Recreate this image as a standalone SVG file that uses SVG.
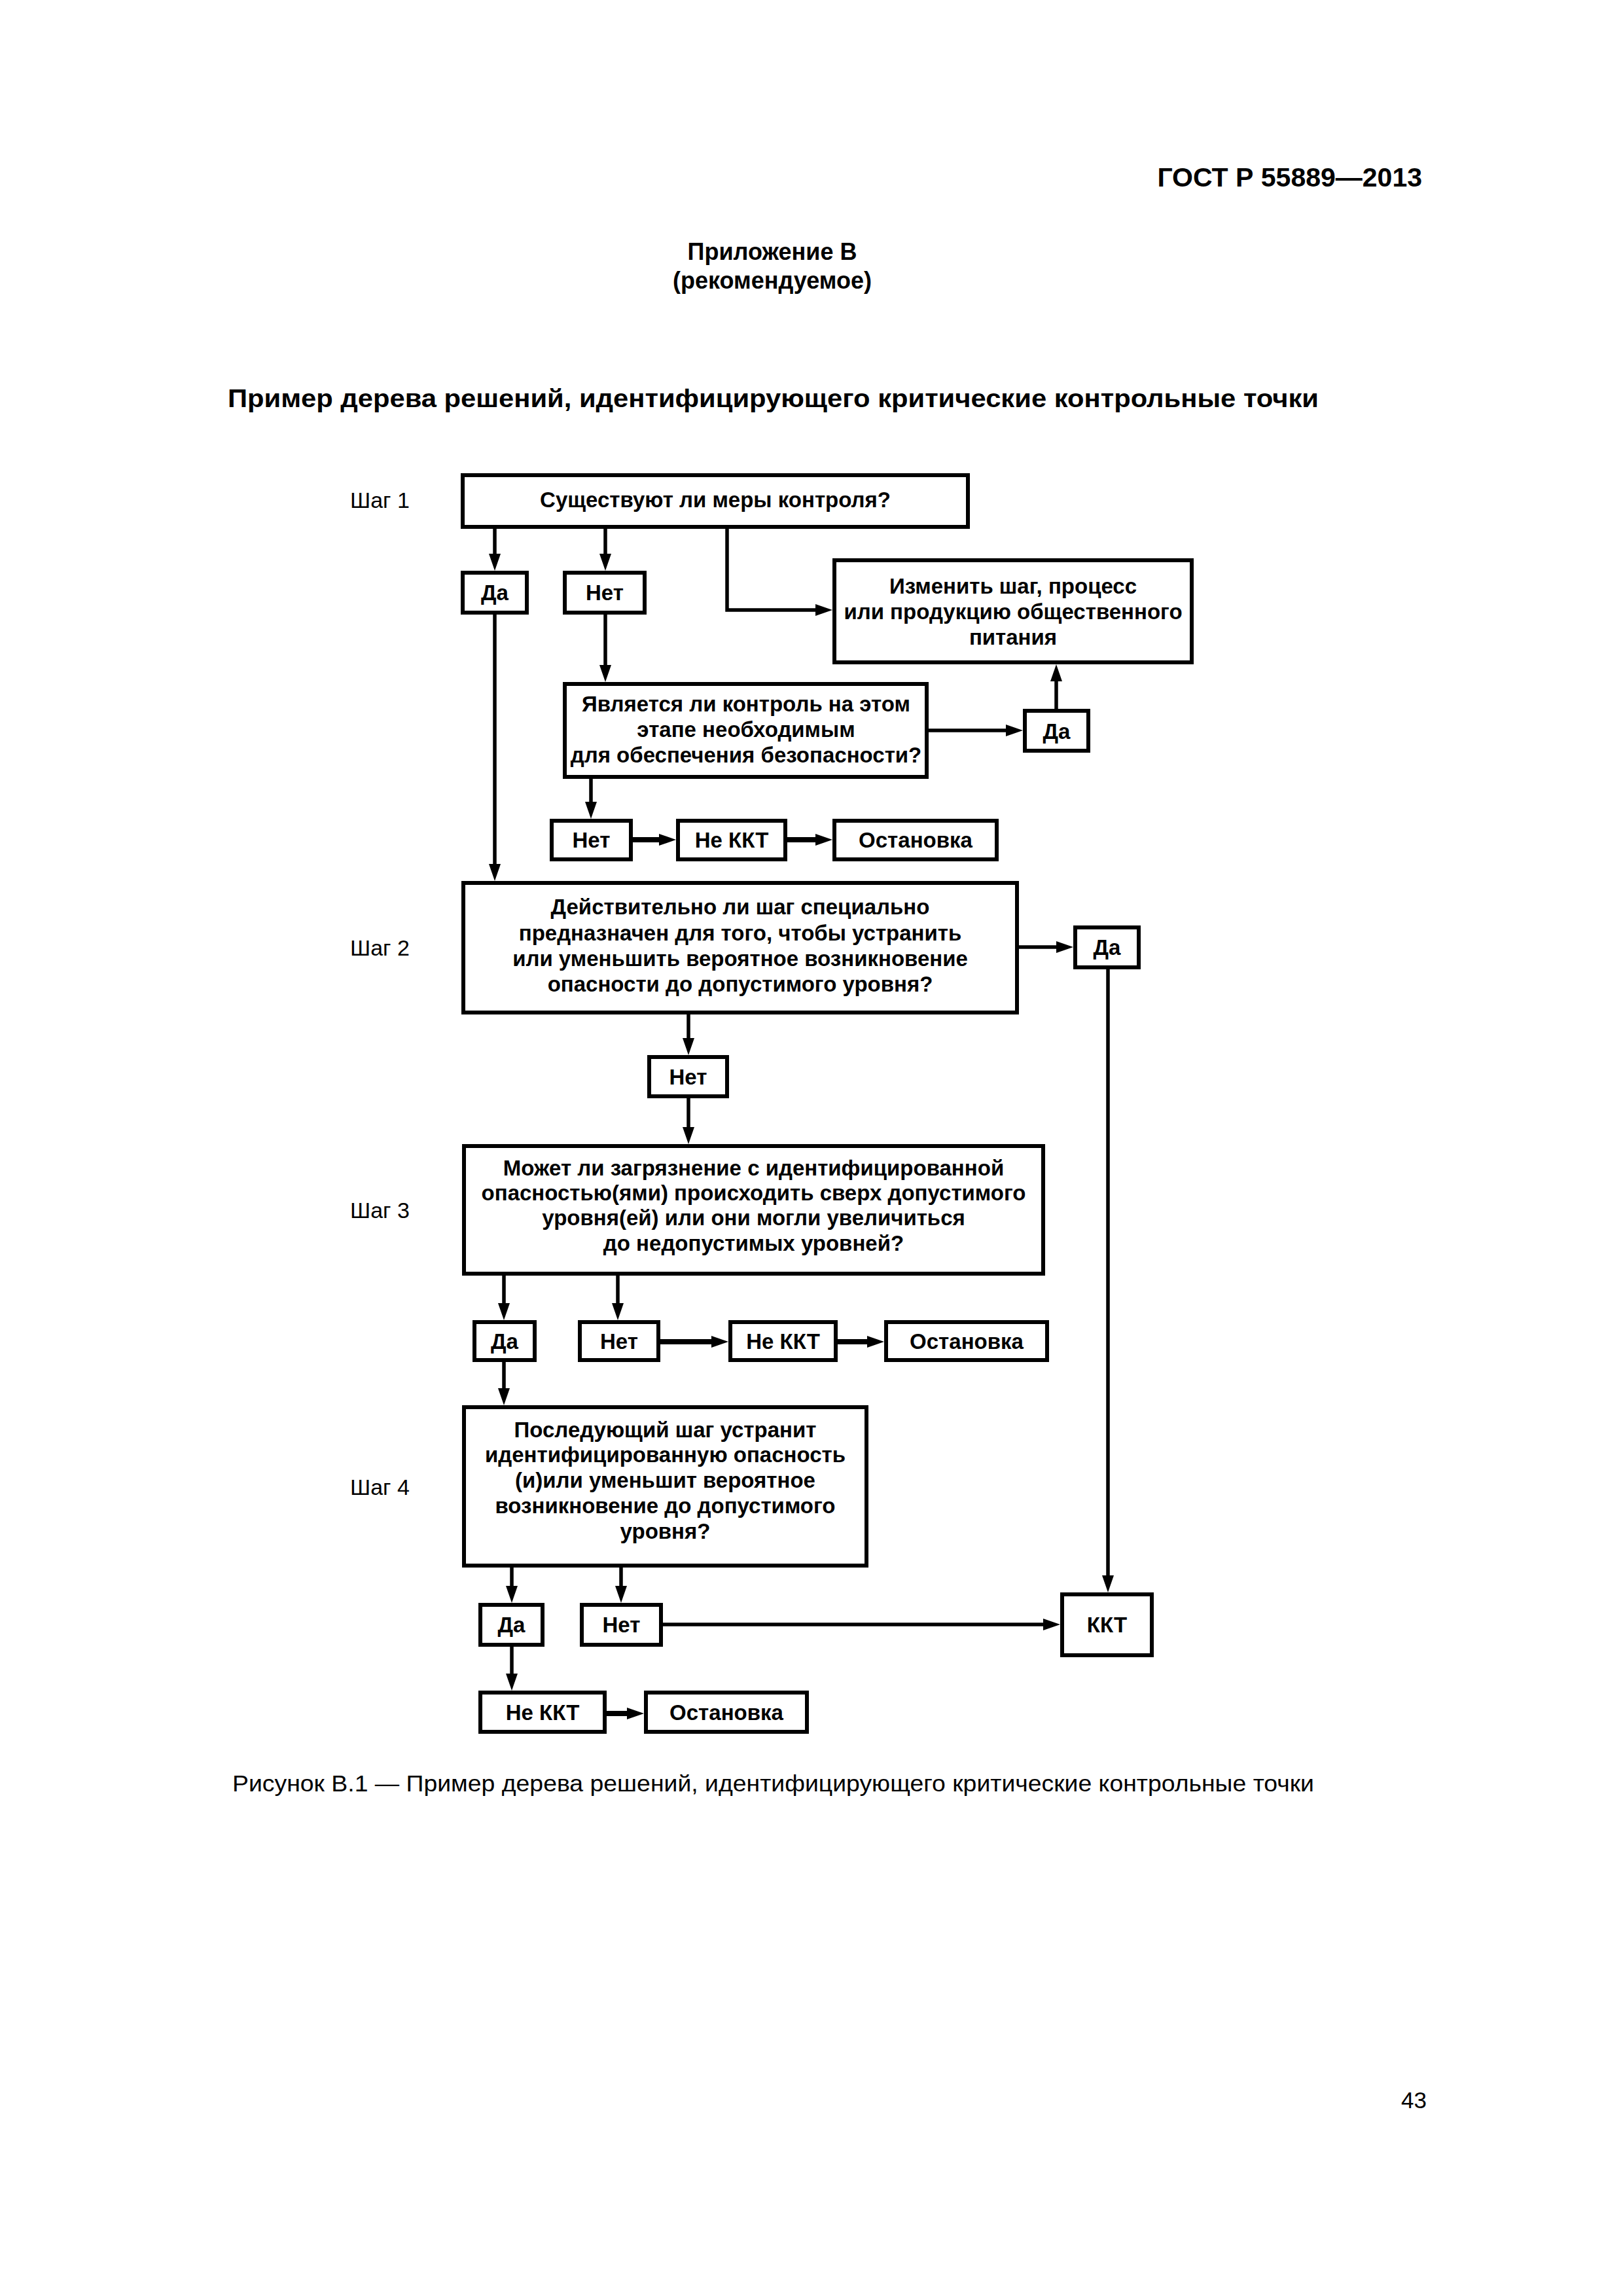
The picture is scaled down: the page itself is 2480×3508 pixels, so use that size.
<svg xmlns="http://www.w3.org/2000/svg" width="2480" height="3508" viewBox="0 0 2480 3508">
<style>
.bg{fill:#fff}
.box{fill:#fff;stroke:#000;stroke-width:6}
.t{font-family:"Liberation Sans",Arial,sans-serif;font-size:33px;font-weight:bold;text-anchor:middle;fill:#000}
.lbl{font-family:"Liberation Sans",Arial,sans-serif;font-size:34px;fill:#000}
.hd{font-family:"Liberation Sans",Arial,sans-serif;font-weight:bold;fill:#000}
.cap{font-family:"Liberation Sans",Arial,sans-serif;font-size:35px;fill:#000}
.ln{fill:none;stroke:#000;stroke-width:5.5;marker-end:url(#ah)}
.thk{stroke-width:8}
</style>
<defs>
<marker id="ah" viewBox="0 0 26 18" markerWidth="26" markerHeight="18" refX="14" refY="9" markerUnits="userSpaceOnUse" orient="auto">
<path d="M0,0 L26,9 L0,18 z" fill="#000"/>
</marker>
</defs>
<rect class="bg" x="0" y="0" width="2480" height="3508"/>

<text class="hd" x="2173" y="285" font-size="41" text-anchor="end">ГОСТ Р 55889—2013</text>
<text class="hd" x="1180" y="397" font-size="36" text-anchor="middle">Приложение В</text>
<text class="hd" x="1180" y="441" font-size="36" text-anchor="middle">(рекомендуемое)</text>
<text class="hd" x="348" y="622" font-size="39" textLength="1667" lengthAdjust="spacingAndGlyphs">Пример дерева решений, идентифицирующего критические контрольные точки</text>

<text class="lbl" x="535" y="776">Шаг 1</text>
<text class="lbl" x="535" y="1460">Шаг 2</text>
<text class="lbl" x="535" y="1861">Шаг 3</text>
<text class="lbl" x="535" y="2284">Шаг 4</text>

<g id="connectors">
<path class="ln" d="M756,808 V860"/>
<path class="ln" d="M925,808 V860"/>
<path class="ln" d="M1111,808 V932 H1260"/>
<path class="ln" d="M756,939 V1334"/>
<path class="ln" d="M925,939 V1030"/>
<path class="ln" d="M1419,1116 H1551"/>
<path class="ln" d="M1614,1083 V1027"/>
<path class="ln" d="M903,1190 V1239"/>
<path class="ln thk" d="M967,1283 H1021"/>
<path class="ln thk" d="M1203,1283 H1260"/>
<path class="ln" d="M1557,1447 H1628"/>
<path class="ln" d="M1693,1481 V2421"/>
<path class="ln" d="M1052,1550 V1600"/>
<path class="ln" d="M1052,1678 V1736"/>
<path class="ln" d="M770,1949 V2005"/>
<path class="ln" d="M944,1949 V2005"/>
<path class="ln thk" d="M1009,2050 H1101"/>
<path class="ln thk" d="M1280,2050 H1339"/>
<path class="ln" d="M770,2081 V2135"/>
<path class="ln" d="M782,2395 V2437"/>
<path class="ln" d="M949,2395 V2437"/>
<path class="ln" d="M1013,2482 H1608"/>
<path class="ln" d="M782,2516 V2571"/>
<path class="ln thk" d="M927,2618 H972"/>
</g>

<g id="step1">
<rect class="box" x="707" y="726" width="772" height="79"/>
<text class="t" x="1093" y="775">Существуют ли меры контроля?</text>
</g>
<g id="da1">
<rect class="box" x="707" y="875" width="98" height="61"/>
<text class="t" x="756" y="917">Да</text>
</g>
<g id="net1">
<rect class="box" x="863" y="875" width="122" height="61"/>
<text class="t" x="924" y="917">Нет</text>
</g>
<g id="change">
<rect class="box" x="1275" y="856" width="546" height="156"/>
<text class="t" x="1548" y="907">Изменить шаг, процесс</text>
<text class="t" x="1548" y="946">или продукцию общественного</text>
<text class="t" x="1548" y="985">питания</text>
</g>
<g id="necessary">
<rect class="box" x="863" y="1045" width="553" height="142"/>
<text class="t" x="1140" y="1087">Является ли контроль на этом</text>
<text class="t" x="1140" y="1126">этапе необходимым</text>
<text class="t" x="1140" y="1165">для обеспечения безопасности?</text>
</g>
<g id="da2">
<rect class="box" x="1566" y="1086" width="97" height="61"/>
<text class="t" x="1614.5" y="1129">Да</text>
</g>
<g id="net2">
<rect class="box" x="843" y="1254" width="121" height="59"/>
<text class="t" x="903.5" y="1295">Нет</text>
</g>
<g id="nekkt1">
<rect class="box" x="1036" y="1254" width="164" height="59"/>
<text class="t" x="1118" y="1295">Не ККТ</text>
</g>
<g id="stop1">
<rect class="box" x="1275" y="1254" width="248" height="59"/>
<text class="t" x="1399" y="1295">Остановка</text>
</g>
<g id="step2">
<rect class="box" x="708" y="1349" width="846" height="198"/>
<text class="t" x="1131" y="1397">Действительно ли шаг специально</text>
<text class="t" x="1131" y="1437">предназначен для того, чтобы устранить</text>
<text class="t" x="1131" y="1476">или уменьшить вероятное возникновение</text>
<text class="t" x="1131" y="1515">опасности до допустимого уровня?</text>
</g>
<g id="da3">
<rect class="box" x="1643" y="1417" width="97" height="61"/>
<text class="t" x="1691.5" y="1459">Да</text>
</g>
<g id="net3">
<rect class="box" x="992" y="1615" width="119" height="60"/>
<text class="t" x="1051.5" y="1657">Нет</text>
</g>
<g id="step3">
<rect class="box" x="709" y="1751" width="885" height="195"/>
<text class="t" x="1151.5" y="1796">Может ли загрязнение с идентифицированной</text>
<text class="t" x="1151.5" y="1834">опасностью(ями) происходить сверх допустимого</text>
<text class="t" x="1151.5" y="1872">уровня(ей) или они могли увеличиться</text>
<text class="t" x="1151.5" y="1911">до недопустимых уровней?</text>
</g>
<g id="da4">
<rect class="box" x="725" y="2020" width="92" height="58"/>
<text class="t" x="771" y="2061">Да</text>
</g>
<g id="net4">
<rect class="box" x="886" y="2020" width="120" height="58"/>
<text class="t" x="946" y="2061">Нет</text>
</g>
<g id="nekkt2">
<rect class="box" x="1116" y="2020" width="161" height="58"/>
<text class="t" x="1196.5" y="2061">Не ККТ</text>
</g>
<g id="stop2">
<rect class="box" x="1354" y="2020" width="246" height="58"/>
<text class="t" x="1477" y="2061">Остановка</text>
</g>
<g id="step4">
<rect class="box" x="709" y="2150" width="615" height="242"/>
<text class="t" x="1016.5" y="2196">Последующий шаг устранит</text>
<text class="t" x="1016.5" y="2234">идентифицированную опасность</text>
<text class="t" x="1016.5" y="2273">(и)или уменьшит вероятное</text>
<text class="t" x="1016.5" y="2312">возникновение до допустимого</text>
<text class="t" x="1016.5" y="2351">уровня?</text>
</g>
<g id="da5">
<rect class="box" x="734" y="2452" width="95" height="61"/>
<text class="t" x="781.5" y="2494">Да</text>
</g>
<g id="net5">
<rect class="box" x="889" y="2452" width="121" height="61"/>
<text class="t" x="949.5" y="2494">Нет</text>
</g>
<g id="kkt">
<rect class="box" x="1623" y="2436" width="137" height="93"/>
<text class="t" x="1691.5" y="2494">ККТ</text>
</g>
<g id="nekkt3">
<rect class="box" x="734" y="2586" width="190" height="60"/>
<text class="t" x="829" y="2628">Не ККТ</text>
</g>
<g id="stop3">
<rect class="box" x="987" y="2586" width="246" height="60"/>
<text class="t" x="1110" y="2628">Остановка</text>
</g>

<text class="cap" x="355" y="2737" textLength="1653" lengthAdjust="spacingAndGlyphs">Рисунок В.1 — Пример дерева решений, идентифицирующего критические контрольные точки</text>
<text class="cap" x="2180" y="3221" font-size="38" text-anchor="end">43</text>
</svg>
